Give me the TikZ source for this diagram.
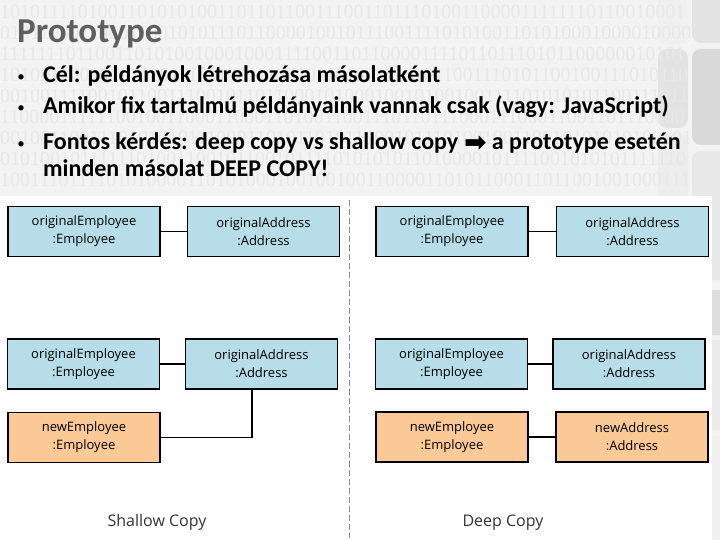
\documentclass[tikz,border=0pt]{standalone}
\usepackage{fontspec}
\setmainfont{Carlito}
\newfontfamily\boxfont{Open Sans}
\newfontfamily\binfont{Liberation Serif}
\newfontfamily\symfont{DejaVu Sans}
\usetikzlibrary{positioning}

\definecolor{objblue}{RGB}{183,222,232}
\definecolor{objorange}{RGB}{251,201,150}
\definecolor{titlegray}{RGB}{95,95,95}
\definecolor{bgray}{RGB}{243,243,243}
\definecolor{digitgray}{RGB}{232,232,232}

\tikzset{
  obj/.style={draw=black, line width=1.1pt, fill=objblue, minimum width=152pt, minimum height=50pt,
    inner sep=0pt, align=center, font=\boxfont\fontsize{13}{18}\selectfont},
  newobj/.style={obj, fill=objorange},
  link/.style={line width=1.1pt},
  bullettext/.style={anchor=base west, inner sep=0pt, font=\bfseries\fontsize{24}{26}\selectfont},
  bulletdot/.style={anchor=base, inner sep=0pt, font=\fontsize{15}{16}\selectfont},
  caption/.style={anchor=base, inner sep=0pt, text=black!80, font=\boxfont\fontsize{16}{18}\selectfont},
  tile/.style={rounded corners=9pt, fill=#1}
}

\begin{document}
\begin{tikzpicture}[x=1pt, y=-1pt]
  \useasboundingbox (0,0) rectangle (720,540);

  % Hatter
  \fill[bgray] (0,0) rectangle (720,540);
  \fill[tile=black!6] (658,-12) rectangle (688,44);
  \fill[tile=black!11] (658,49) rectangle (688,128);
  \fill[tile=black!7] (658,133) rectangle (688,210);
  \fill[tile=black!11] (692,-12) rectangle (730,43);
  \fill[tile=black!15] (692,49) rectangle (730,145);
  \fill[tile=black!9] (692,151) rectangle (730,280);
  \fill[tile=black!13] (692,290) rectangle (730,335);
  \fill[tile=black!8] (692,340) rectangle (730,430);
  \fill[tile=black!6] (692,436) rectangle (730,550);

  % Binaris sorok
  \foreach \row [count=\i] in {
    1010111101001101010100110110110011100110111010011000011111110110010001,
    0101100011000110010101110110000100101110011110101001101010001000010000,
    1111111011001101010010001000111100110110000111101101110101100000010101,
    1010011001010101011101100111001011010011101011001110101100100111010110,
    0010011110010110011100101101100010100010010100100111101010101100111011,
    1100001111110010011000110001101001100111011011100011100011001101110000,
    0010011001110101010111000110101101011000101110100100110010101010100101,
    0101001011111101001100101100101111010101011010000101111001010101111110,
    1001110111101010000110101000100100100110000110101100011011001001000111}
    \node[anchor=base west, inner sep=0pt, text=digitgray, font=\binfont\fontsize{20}{20}\selectfont]
      at (0, 19+21*\i-21) {\row};

  % Cim es felsorolas
  \node[anchor=base west, inner sep=0pt, text=titlegray, font=\bfseries\fontsize{35}{36}\selectfont]
    (title) at (17,43) {Prototype};
  \node[bulletdot] (b1dot) at (21,82) {\textbullet};
  \node[bullettext] (b1) at (43,83) {Cél: példányok létrehozása másolatként};
  \node[bulletdot] (b2dot) at (21,112.5) {\textbullet};
  \node[bullettext] (b2) at (43,113.5) {Amikor fix tartalmú példányaink vannak csak (vagy: JavaScript)};
  \node[bulletdot] (b3dot) at (21,149) {\textbullet};
  \node[bullettext] (b3) at (43,150) {Fontos kérdés: deep copy vs shallow copy\hspace{6pt}{\symfont\fontsize{27}{20}\selectfont\raisebox{-1.5pt}{➡}}\hspace{5pt}a prototype esetén};
  \node[bullettext] (b4) at (43,177) {minden másolat DEEP COPY!};

  % Abra panel
  \fill[white] (0,196) rectangle (712,540);
  \draw[black!45, line width=0.8pt, dash pattern=on 6pt off 3pt] (349,200) -- (349,538);

  % Shallow copy
  \node[obj] (origEmpA) at (84,231.5) {originalEmployee\\:Employee};
  \node[obj] (origAddrA) at (263.5,231.5) {originalAddress\\:Address};
  \node[obj] (origEmpB) at (83.5,364) {originalEmployee\\:Employee};
  \node[obj] (origAddrB) at (261.5,364) {originalAddress\\:Address};
  \node[newobj] (newEmpB) at (84,437.5) {newEmployee\\:Employee};
  \draw[link] (origEmpA) -- (origAddrA);
  \draw[link] (origEmpB) -- (origAddrB);
  \draw[link] ([xshift=-9.5pt]origAddrB.south) |- (newEmpB.east);
  \node[caption] (shallowlbl) at (157,526) {Shallow Copy};

  % Deep copy
  \node[obj] (origEmpC) at (452,231.5) {originalEmployee\\:Employee};
  \node[obj] (origAddrC) at (632.5,231.5) {originalAddress\\:Address};
  \node[obj] (origEmpD) at (451.5,364) {originalEmployee\\:Employee};
  \node[obj] (origAddrD) at (629,364) {originalAddress\\:Address};
  \node[newobj] (newEmpD) at (452,437) {newEmployee\\:Employee};
  \node[newobj] (newAddrD) at (632,437) {newAddress\\:Address};
  \draw[link] (origEmpC) -- (origAddrC);
  \draw[link] (origEmpD) -- (origAddrD);
  \draw[link] (newEmpD) -- (newAddrD);
  \node[caption] (deeplbl) at (503,526) {Deep Copy};
\end{tikzpicture}
\end{document}
